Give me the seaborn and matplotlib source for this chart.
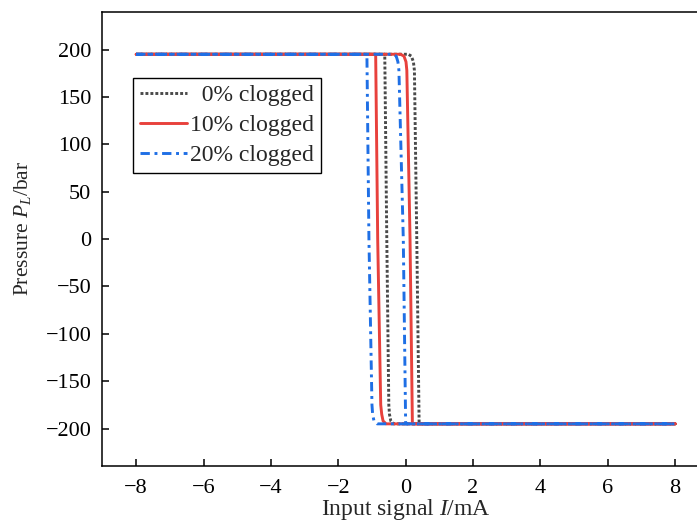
import matplotlib
matplotlib.use("Agg")
import matplotlib.pyplot as plt
import seaborn as sns
import pandas as pd

# ---- data (input current I in mA, pressure P_L in bar) ----
# each loop: rising branch (I increasing), then falling branch (I decreasing)
i_0 = [-8, 0.08, 0.17, 0.23, 0.26, 0.33, 0.40, 8,
       8, -0.35, -0.44, -0.48, -0.50, -0.56, -0.62, -8]
p_0 = [195, 195, 193, 187, 178, 0, -195, -195,
       -195, -195, -192, -185, -175, 0, 195, 195]

i_10 = [-8, -0.15, -0.05, 0.01, 0.035, 0.13, 0.20, 8,
        8, -0.58, -0.67, -0.71, -0.74, -0.83, -0.89, -8]
p_10 = [195, 195, 193, 187, 178, 0, -195, -195,
        -195, -195, -192, -185, -175, 0, 195, 195]

i_20 = [-8, -0.38, -0.28, -0.23, -0.20, -0.07, 0.0, 8,
        8, -0.85, -0.94, -0.98, -1.00, -1.09, -1.15, -8]
p_20 = [195, 195, 193, 187, 178, 0, -195, -195,
        -195, -195, -192, -185, -175, 0, 195, 195]

labels = ["  0% clogged", "10% clogged", "20% clogged"]
x_ticks = [-8, -6, -4, -2, 0, 2, 4, 6, 8]
y_ticks = [-200, -150, -100, -50, 0, 50, 100, 150, 200]

sns.set_style("ticks")
plt.rcParams["font.family"] = ["Liberation Serif", "DejaVu Serif"]
plt.rcParams["mathtext.fontset"] = "custom"
plt.rcParams["mathtext.rm"] = "Liberation Serif"
plt.rcParams["mathtext.it"] = "Liberation Serif:italic"

fig = plt.figure(figsize=(6.97, 5.28), dpi=100)
ax = fig.add_axes([0.147, 0.1165, 0.87, 0.8615])

series = [(i_0, p_0, "#4a4a4a", (0, (1, 0.7))),
          (i_10, p_10, "#e8413c", "-"),
          (i_20, p_20, "#1f6fe5", (0, (3.2, 1.6, 1.0, 1.6)))]

for (xs, ys, col, ls), lab in zip(series, labels):
    df = pd.DataFrame({"I": xs, "P": ys})
    sns.lineplot(data=df, x="I", y="P", sort=False, estimator=None,
                 color=col, linewidth=2.1, ax=ax, label=lab)
    ax.lines[-1].set_linestyle(ls)

ax.set_xlim(-9, 9)
ax.set_ylim(-240, 240)
ax.set_xticks(x_ticks)
ax.set_yticks(y_ticks)
ax.tick_params(direction="in", length=5, width=1.1, labelsize=16, colors="black")
ax.tick_params(axis="x", pad=9)
ax.tick_params(axis="y", pad=8)
for s in ["left", "bottom", "top"]:
    ax.spines[s].set_visible(True)
    ax.spines[s].set_linewidth(1.1)
    ax.spines[s].set_color("black")
ax.spines["right"].set_visible(False)

ax.set_xlabel("Input signal $I$/mA", fontsize=17)
ax.set_ylabel("Pressure $P_L$/bar", fontsize=15.5)
ax.xaxis.set_label_coords(0.5008, -0.068)
ax.yaxis.set_label_coords(-0.1147, 0.524)

leg = ax.legend(loc="upper left", bbox_to_anchor=(0.05, 0.855), fontsize=17,
                frameon=True, fancybox=False, shadow=False, framealpha=1,
                edgecolor="black", handlelength=2.0, handletextpad=0.12,
                borderpad=0.3, labelspacing=0.36, borderaxespad=0)
leg.get_frame().set_linewidth(1.0)

fig.savefig("out.png", dpi=100)
